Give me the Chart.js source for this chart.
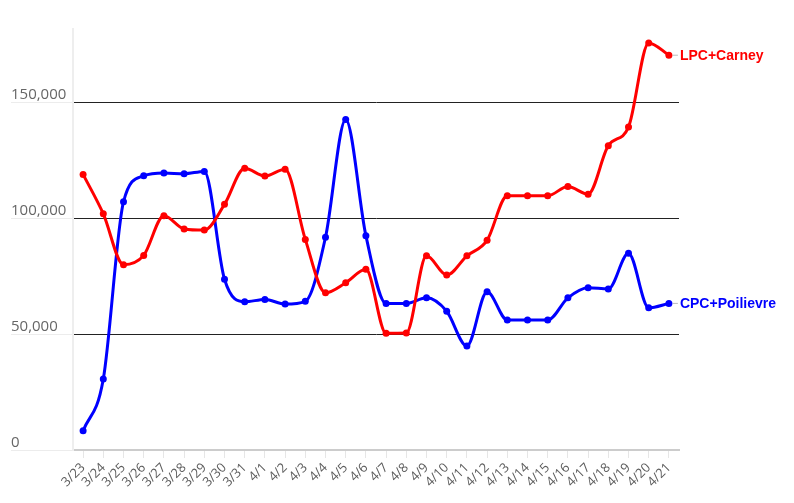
<!DOCTYPE html>
<html>
<head>
<meta charset="utf-8">
<script src="https://cdn.jsdelivr.net/npm/chart.js@4"></script>
<style>
  html, body { margin: 0; padding: 0; background: #fff; }
  #wrap { width: 794px; height: 503px; position: relative; }
</style>
</head>
<body>
<div id="wrap"><canvas id="chart" width="794" height="503"></canvas></div>
<script>
// datas do eixo x
const days = ['3/23', '3/24', '3/25', '3/26', '3/27', '3/28', '3/29', '3/30', '3/31',
    '4/1', '4/2', '4/3', '4/4', '4/5', '4/6', '4/7', '4/8', '4/9', '4/10', '4/11',
    '4/12', '4/13', '4/14', '4/15', '4/16', '4/17', '4/18', '4/19', '4/20', '4/21'];

const lpcCarney = [118800, 101800, 79900, 83900, 101000, 95300, 94800, 105900, 121500,
    118100, 121000, 90800, 67800, 72100, 77900, 50300, 50400, 83700, 75400, 83700,
    90400, 109600, 109600, 109600, 113600, 110300, 131200, 139200, 175500, 170200];

const cpcPoilievre = [8300, 30600, 107000, 118200, 119400, 119100, 120100, 73600, 63900,
    64900, 62900, 64100, 91700, 142500, 92400, 63200, 63200, 65600, 59800, 44800,
    68200, 56000, 56000, 56000, 65600, 70000, 69400, 84800, 61300, 63200];

const seriesNames = ['LPC+Carney', 'CPC+Poilievre'];
const yTicks = [0, 50000, 100000, 150000];
const yMax = 181500;

const RED = '#ff0000';
const BLUE = '#0000ff';

// rotulos no fim de cada linha
const endLabels = {
    id: 'endLabels',
    afterDatasetsDraw(chart) {
        const ctx = chart.ctx;
        chart.data.datasets.forEach((ds, i) => {
            const meta = chart.getDatasetMeta(i);
            const pt = meta.data[meta.data.length - 1];
            if (!pt) return;
            ctx.save();
            ctx.strokeStyle = '#bbb';
            ctx.lineWidth = 1;
            ctx.beginPath();
            ctx.moveTo(pt.x + 4, pt.y);
            ctx.lineTo(pt.x + 9, pt.y);
            ctx.stroke();
            ctx.fillStyle = ds.borderColor;
            ctx.font = 'bold 14px "Liberation Sans", Arial, sans-serif';
            ctx.textAlign = 'left';
            ctx.textBaseline = 'middle';
            ctx.fillText(ds.label, pt.x + 11, pt.y + 1);
            ctx.restore();
        });
    }
};

function makeDataset(label, data, color) {
    return {
        label: label,
        data: data,
        borderColor: color,
        backgroundColor: color,
        borderWidth: 3,
        pointRadius: 3.5,
        pointHoverRadius: 4,
        pointBorderWidth: 0,
        cubicInterpolationMode: 'monotone',
        fill: false,
        clip: false
    };
}

new Chart(document.getElementById('chart').getContext('2d'), {
    type: 'line',
    data: {
        labels: days,
        datasets: [
            makeDataset(seriesNames[0], lpcCarney, RED),
            makeDataset(seriesNames[1], cpcPoilievre, BLUE)
        ]
    },
    options: {
        responsive: false,
        animation: false,
        layout: { padding: { left: 11, right: 115, top: 29, bottom: 0 } },
        plugins: {
            legend: { display: false },
            tooltip: { enabled: false }
        },
        scales: {
            x: {
                offset: true,
                grid: {
                    offset: false,
                    drawOnChartArea: false,
                    tickLength: 8,
                    tickColor: '#e6e6e6',
                    tickWidth: 1
                },
                border: { color: '#cccccc', width: 2 },
                ticks: {
                    minRotation: 45,
                    maxRotation: 45,
                    autoSkip: false,
                    padding: 2,
                    color: '#5c5c5c',
                    font: { family: '"Open Sans", sans-serif', size: 13 }
                },
                afterFit(scale) { scale.height = 53; }
            },
            y: {
                min: 0,
                max: yMax,
                afterBuildTicks(scale) {
                    scale.ticks = yTicks.map(v => ({ value: v }));
                },
                afterFit(scale) { scale.width = 62; },
                grid: {
                    color: ctx => (ctx.tick && ctx.tick.value === 0) ? 'rgba(0,0,0,0)' : '#222',
                    lineWidth: 1,
                    tickLength: 62,
                    tickColor: '#ececec',
                    tickWidth: 1
                },
                border: { color: '#eeeeee', width: 2 },
                ticks: {
                    crossAlign: 'far',
                    labelOffset: -7,
                    padding: 0,
                    color: '#666',
                    font: { family: '"Open Sans", sans-serif', size: 15 },
                    callback: v => v.toLocaleString('en-US')
                }
            }
        }
    },
    plugins: [endLabels]
});
</script>
</body>
</html>
